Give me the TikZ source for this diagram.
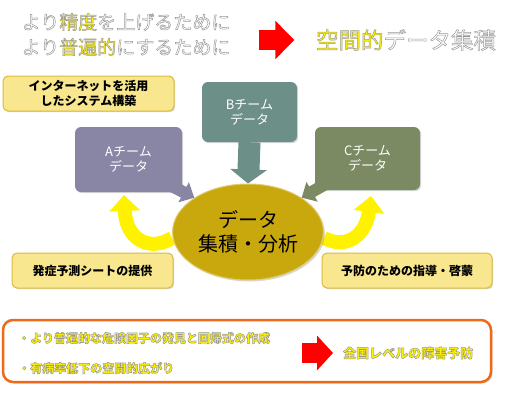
\documentclass[tikz,border=0pt]{standalone}
\usepackage{fontspec}
\setmainfont{Noto Sans CJK JP}
\usetikzlibrary{arrows.meta,positioning,shapes.geometric,shadows,backgrounds}
\definecolor{teamA}{HTML}{8985A5}
\definecolor{teamB}{HTML}{6C8F88}
\definecolor{teamC}{HTML}{7B8A63}
\definecolor{coreGold}{HTML}{C9A80E}
\definecolor{noteFill}{HTML}{F8E78E}
\definecolor{noteLine}{HTML}{DDBB3A}
\definecolor{frameOrange}{HTML}{EE6A1A}
\definecolor{arrowRed}{HTML}{FF0000}
% outlined text: fill in the current colour, grey stroke round the glyphs
\newcommand{\outl}[1]{\special{pdf:literal direct 2 Tr 0.5 w 0.6 G}#1\special{pdf:literal direct 0 Tr}}
\newcommand{\hilite}[1]{\textcolor{yellow}{\outl{#1}}}
\tikzset{
  noteBox/.style={draw=noteLine, line width=1pt, fill=noteFill, rounded corners=5pt, align=center,
    font=\bfseries\fontsize{12}{15}\selectfont, inner sep=0pt,
    drop shadow={opacity=0.3, shadow xshift=1.2pt, shadow yshift=-1.2pt}},
  teamBox/.style={rounded corners=6pt, align=center, text=white, font=\fontsize{13}{15}\selectfont,
    inner sep=0pt, drop shadow={opacity=0.3, shadow xshift=1.2pt, shadow yshift=-1.2pt}},
  calloutArrow/.style={line width=12pt, -{Triangle[width=22pt,length=12pt]}},
  turnArrow/.style={yellow, line width=14pt, -{Triangle[width=30pt,length=16pt]}},
  redArrow/.style={arrowRed, line width=20pt, -{Triangle[width=37pt,length=19pt]}},
  findText/.style={anchor=west, text=yellow, font=\bfseries\fontsize{12}{14}\selectfont, inner sep=0pt}
}
\begin{document}
\begin{tikzpicture}[x=1pt,y=-1pt]
  \useasboundingbox (0,0) rectangle (515,400);
  % goal line
  \node[align=center, text=white, font=\fontsize{19}{25}\selectfont] (aim) at (126,34.5)
    {\outl{より}\hilite{精度}\outl{を上げるために}\\ \outl{より}\hilite{普遍的}\outl{にするために}};
  \node[font=\fontsize{22.5}{26}\selectfont, text=white] (goal) at (406,40)
    {\hilite{空間的}\outl{データ集積}};
  \draw[redArrow, shorten <=25pt, shorten >=18pt] (aim.east |- goal) -- (goal.west);
  % team data and notes
  \node[noteBox, minimum width=171, minimum height=35] (net) at (88.5,93.5)
    {インターネットを活用\\したシステム構築};
  \node[teamBox, fill=teamA, minimum width=107, minimum height=65] (adata) at (128.5,159.5)
    {Aチーム\\データ};
  \node[teamBox, fill=teamB, minimum width=95, minimum height=60] (bdata) at (249.5,112)
    {Bチーム\\データ};
  \node[teamBox, fill=teamC, minimum width=105, minimum height=63] (cdata) at (367.5,158.5)
    {Cチーム\\データ};
  \node[ellipse, fill=coreGold, draw=coreGold!60!white, line width=1pt, minimum width=147, minimum height=96,
    align=center, font=\fontsize{20}{24}\selectfont,
    drop shadow={opacity=0.3, shadow xshift=1.5pt, shadow yshift=-1.5pt}] (core) at (248,232)
    {データ\\集積・分析};
  \coordinate (ltip) at (124,195);
  \coordinate (rtip) at (371,196);
  \begin{pgfonlayer}{background}
    \draw[turnArrow] ([yshift=-6pt]core.west) .. controls (150,252) and (126,240) .. (ltip);
    \draw[turnArrow] ([yshift=-6pt]core.east) .. controls (347,250) and (366,235) .. (rtip);
  \end{pgfonlayer}
  \draw[calloutArrow, teamA] ([xshift=-14pt,yshift=8pt]adata.south east) -- (core.north west);
  \draw[calloutArrow, teamC] ([xshift=14pt,yshift=8pt]cdata.south west) -- (core.north east);
  \draw[teamB, line width=22pt, -{Triangle[width=36pt,length=14pt]}] (bdata.south) -- (core.north);
  \node[noteBox, minimum width=161, minimum height=35] (onset) at (92.5,270.5) {発症予測シートの提供};
  \node[noteBox, minimum width=170, minimum height=35] (guide) at (407,270.5) {予防のための指導・啓蒙};
  % outcome
  \node[draw=frameOrange, line width=2.5pt, rounded corners=10pt, fill=white, minimum width=488, minimum height=62,
    drop shadow={opacity=0.25, shadow xshift=1.5pt, shadow yshift=-1.5pt}] (frame) at (247,351) {};
  \node[findText] (find1) at (18,338) {\outl{・より普遍的な危険因子の発見と回帰式の作成}};
  \node[findText] (find2) at (18,368) {\outl{・有病率低下の空間的広がり}};
  \node[findText, font=\bfseries\fontsize{13}{15}\selectfont] (prevent) at (343,353) {\outl{全国レベルの障害予防}};
  \draw[arrowRed, line width=20pt, -{Triangle[width=34pt,length=16pt]}] ([xshift=-41pt]prevent.west) -- ([xshift=-10pt]prevent.west);
\end{tikzpicture}
\end{document}
